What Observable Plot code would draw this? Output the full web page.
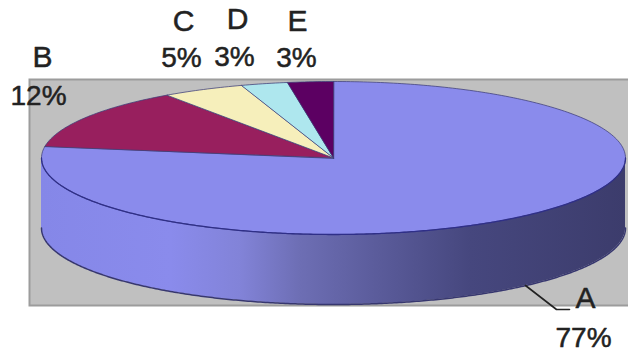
<!DOCTYPE html>
<html>
<head>
<meta charset="utf-8">
<style>html,body{margin:0;padding:0;background:#fff}svg{display:block}</style>
<script src="https://cdn.jsdelivr.net/npm/d3@7"></script>
<script src="https://cdn.jsdelivr.net/npm/@observablehq/plot@0.6"></script>
</head>
<body>
<div id="chart"></div>
<script>
// Shares of the pie, clockwise from twelve o'clock
const categories = ["A", "B", "C", "D", "E"];
const shares = [77, 12, 5, 3, 3];
const sliceColors = ["#8a8bec", "#981f5e", "#f6efbb", "#aee7ee", "#5c0062"];

// Disc geometry on the 628x352 canvas
const W = 628, H = 352;
const cx = 333, cy = 157.5, rx = 292, ry = 76.5, depth = 70;
const tilt = 0.84; // narrowing of the far sectors caused by the viewing angle

// Side-wall shading from left to right
const wallStops = [41, 170, 240, 300, 380, 470, 625];
const wallShades = ["#8587e8", "#8a8bec", "#8283d8", "#6d6eb4", "#5a5b9a", "#46477e", "#3c3c6c"];

// Turn a clockwise angle (degrees) into an on-screen point on the rim
const rim = deg => {
  const t = deg * Math.PI / 180;
  const v = Math.atan2(tilt * Math.sin(t), Math.cos(t));
  return {x: cx + rx * Math.sin(v), y: cy - ry * Math.cos(v)};
};

// One closed outline per slice: hub, then the arc
let running = 0;
const slicePoints = [];
const sliceMeta = [];
categories.forEach((name, i) => {
  const start = running * 3.6, end = (running + shares[i]) * 3.6;
  running += shares[i];
  sliceMeta.push({name, share: shares[i]});
  slicePoints.push({name, x: cx, y: cy});
  for (let a = start; a < end; a += 1) slicePoints.push({name, ...rim(a)});
  slicePoints.push({name, ...rim(end)});
});

// Lower half of the rim, carrying the front wall beneath it
const wallRim = d3.range(90, 270.5, 0.5).map(d => {
  const t = d * Math.PI / 180;
  const y = cy - ry * Math.cos(t);
  return {x: cx + rx * Math.sin(t), top: y, bottom: y + depth};
});

// Shared gradient for the front wall
const wallGradient = () => {
  const ns = "http://www.w3.org/2000/svg";
  const defs = document.createElementNS(ns, "defs");
  const grad = document.createElementNS(ns, "linearGradient");
  grad.setAttribute("id", "wall-shade");
  grad.setAttribute("gradientUnits", "userSpaceOnUse");
  grad.setAttribute("x1", wallStops[0]);
  grad.setAttribute("x2", wallStops[wallStops.length - 1]);
  grad.setAttribute("y1", 0);
  grad.setAttribute("y2", 0);
  wallStops.forEach((x, i) => {
    const stop = document.createElementNS(ns, "stop");
    stop.setAttribute("offset", (x - wallStops[0]) / (wallStops[wallStops.length - 1] - wallStops[0]));
    stop.setAttribute("stop-color", wallShades[i]);
    grad.append(stop);
  });
  defs.append(grad);
  return defs;
};

// Label placement: name and percentage are stacked at these spots
const labelSpots = {
  A: {x: 585, y: 298, px: 583, py: 338},
  B: {x: 42, y: 57, px: 38, py: 96},
  C: {x: 183, y: 21, px: 181, py: 58},
  D: {x: 237, y: 19, px: 234, py: 57},
  E: {x: 297, y: 21, px: 296, py: 58}
};
const labels = sliceMeta.flatMap(s => [
  {text: s.name, x: labelSpots[s.name].x, y: labelSpots[s.name].y, size: 30},
  {text: s.share + "%", x: labelSpots[s.name].px, y: labelSpots[s.name].py, size: 28}
]);
const leader = [{x: 525, y: 285}, {x: 556, y: 309}, {x: 569, y: 309}];

const chart = Plot.plot({
  width: W,
  height: H,
  margin: 0,
  style: {background: "#fff"},
  x: {domain: [0, W], range: [0, W], axis: null},
  y: {domain: [0, H], range: [0, H], axis: null},
  color: {domain: categories, range: sliceColors},
  marks: [
    wallGradient,
    Plot.frame({fill: "#c0c0c0", stroke: "#9c9c9c", strokeWidth: 2, insetLeft: 29, insetTop: 79, insetBottom: 47, insetRight: -3}),
    Plot.areaY(wallRim, {x: "x", y1: "top", y2: "bottom", fill: "url(#wall-shade)"}),
    Plot.line(wallRim, {x: "x", y: "bottom", stroke: "#37376f", strokeWidth: 1.5}),
    Plot.line(slicePoints, {
      x: "x", y: "y", z: "name", fill: "name",
      stroke: "#3d3d78", strokeWidth: 1, strokeOpacity: 0.75,
      curve: "linear-closed"
    }),
    Plot.line(wallRim, {x: "x", y: "top", stroke: "#2f2f88", strokeWidth: 1.3}),
    Plot.line(leader, {x: "x", y: "y", stroke: "#222", strokeWidth: 1.6}),
    ...[28, 30].map(size => Plot.text(labels.filter(d => d.size === size), {
      x: "x", y: "y", text: "text",
      fontFamily: "Liberation Sans", fontSize: size, fill: "#222", stroke: "#222", strokeWidth: 0.5, textAnchor: "middle"
    }))
  ]
});
document.getElementById("chart").append(chart);
</script>
</body>
</html>
